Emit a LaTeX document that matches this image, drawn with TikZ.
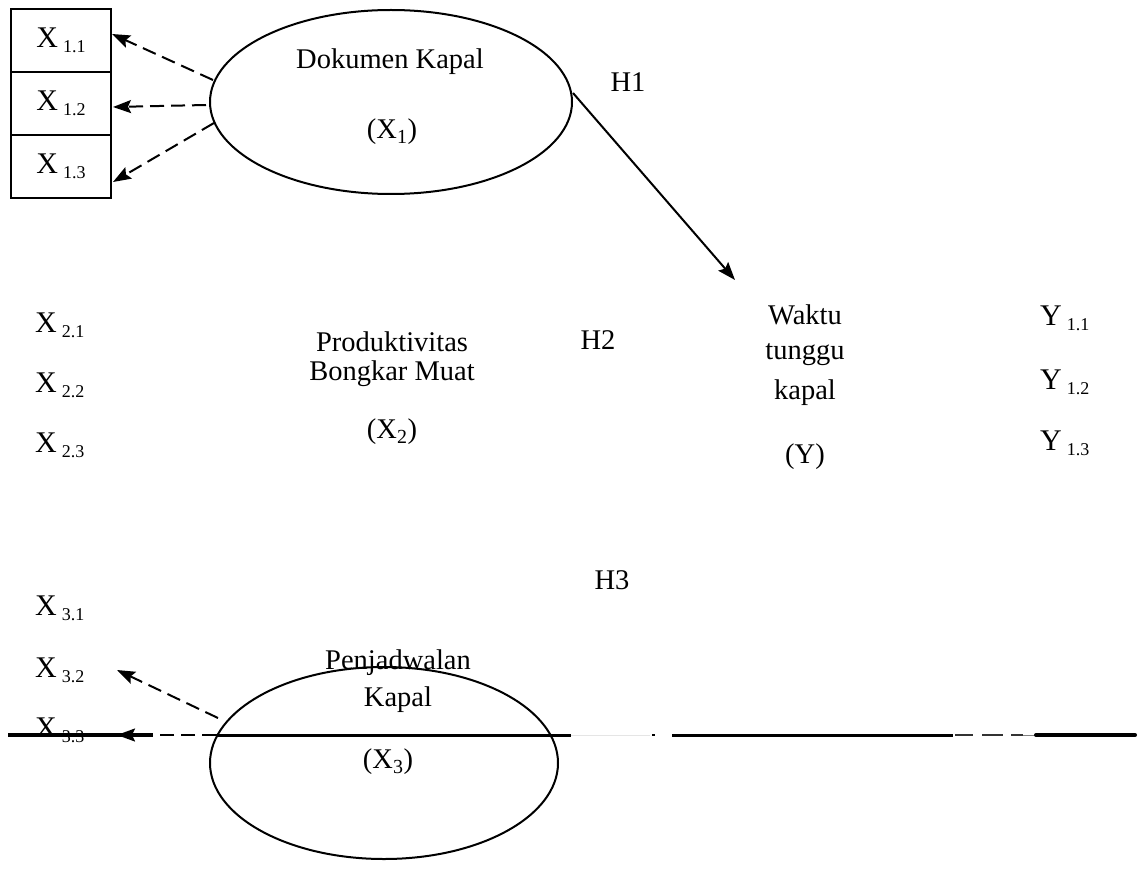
\documentclass[tikz,border=0pt]{standalone}
\usepackage{fontspec}
\setmainfont{Liberation Serif}
\usetikzlibrary{shapes.geometric,arrows.meta,calc}
\newcommand{\idx}[2]{{\fontsize{30}{30}\selectfont #1}\hspace{5pt}\raisebox{-5pt}{\fontsize{18}{18}\selectfont #2}}
\begin{document}
\begin{tikzpicture}[x=1pt,y=-1pt,
  font=\fontsize{28.5}{30}\selectfont,
  lat/.style={draw, ellipse, line width=2pt, inner sep=0pt},
  ind/.style={draw, line width=2.5pt, minimum width=100pt, minimum height=63pt, inner sep=0pt},
  txt/.style={inner sep=0pt},
  lbl/.style={inner sep=0pt, anchor=west},
  dasharrow/.style={line width=2pt, dash pattern=on 14pt off 7pt, -{Stealth[length=18pt,width=13pt,inset=3pt]}},
  solidarrow/.style={line width=2pt, -{Stealth[length=18pt,width=13pt,inset=3pt]}},
  seg/.style={line width=3pt}]
\useasboundingbox (0,0) rectangle (1139,885);

% latent variables
\node[lat, minimum width=362pt, minimum height=184pt] (e1) at (391,102) {};
\node[lat, minimum width=348pt, minimum height=192pt] (e3) at (384,763) {};

% indicator boxes
\node[ind] (b11) at (61,40.5) {\idx{X}{1.1}};
\node[ind] (b12) at (61,103.5) {\idx{X}{1.2}};
\node[ind] (b13) at (61,166.5) {\idx{X}{1.3}};

% texts of ellipse 1
\node[txt] (t1a) at (390,62) {Dokumen Kapal};
\node[txt] (t1b) at (392,132) {(X\textsubscript{1})};

% hypotheses
\node[txt] (h1) at (628,82) {H1};
\node[txt] (h2) at (598,340) {H2};
\node[txt] (h3) at (612,580) {H3};

% X2
\node[lbl] (x21) at (35,325) {\idx{X}{2.1}};
\node[lbl] (x22) at (35,385) {\idx{X}{2.2}};
\node[lbl] (x23) at (35,445) {\idx{X}{2.3}};
\node[txt] (t2a) at (392,342) {Produktivitas};
\node[txt] (t2b) at (392,374) {Bongkar Muat};
\node[txt] (t2c) at (392,432) {(X\textsubscript{2})};

% Y
\node[txt] (ya) at (805,315) {Waktu};
\node[txt] (yb) at (805,355) {tunggu};
\node[txt] (yc) at (805,393) {kapal};
\node[txt] (yd) at (805,457) {(Y)};
\node[lbl] (y11) at (1040,318) {\idx{Y}{1.1}};
\node[lbl] (y12) at (1040,382) {\idx{Y}{1.2}};
\node[lbl] (y13) at (1040,443) {\idx{Y}{1.3}};

% X3
\node[lbl] (x31) at (35,608) {\idx{X}{3.1}};
\node[lbl] (x32) at (35,670) {\idx{X}{3.2}};
\node[lbl] (x33) at (35,730) {\idx{X}{3.3}};
\node[txt] (t3a) at (398,663) {Penjadwalan};
\node[txt] (t3b) at (398,700) {Kapal};
\node[txt] (t3c) at (388,762) {(X\textsubscript{3})};

% connector end points
\coordinate (s11) at (213,80);
\coordinate (s12) at (206,105);
\coordinate (s13) at (214,123);
\coordinate (d11) at (112,34);
\coordinate (d12) at (113,107);
\coordinate (d13) at (113,182);
\coordinate (sh1) at (573,93);
\coordinate (dh1) at (735,280);
\coordinate (s32) at (218,718);
\coordinate (d32) at (117,670);
\coordinate (s33) at (216,735);
\coordinate (d33) at (117,735);

% stray horizontal line
\draw[line width=3.5pt] (8,735) -- (153,735);
\draw[seg] (216,735) -- (571,735);
\draw[line width=0.6pt, black!10] (571,735) -- (650,735);
\draw[line width=2pt] (652,735) -- (655,735);
\draw[seg] (672,735) -- (953,735);
\draw[line width=2.5pt, black!80] (955,735) -- (973,735) (982,735) -- (1003,735) (1011,735) -- (1023,735);
\draw[line width=1pt, black!50] (1023,735) -- (1035,735);
\draw[line width=4pt, line cap=round] (1036,735) -- (1135,735);

% arrows
\draw[dasharrow] (s11) -- (d11);
\draw[dasharrow] (s12) -- (d12);
\draw[dasharrow] (s13) -- (d13);
\draw[solidarrow] (sh1) -- (dh1);
\draw[dasharrow] (s32) -- (d32);
\draw[dasharrow] (s33) -- (d33);
\end{tikzpicture}
\end{document}
